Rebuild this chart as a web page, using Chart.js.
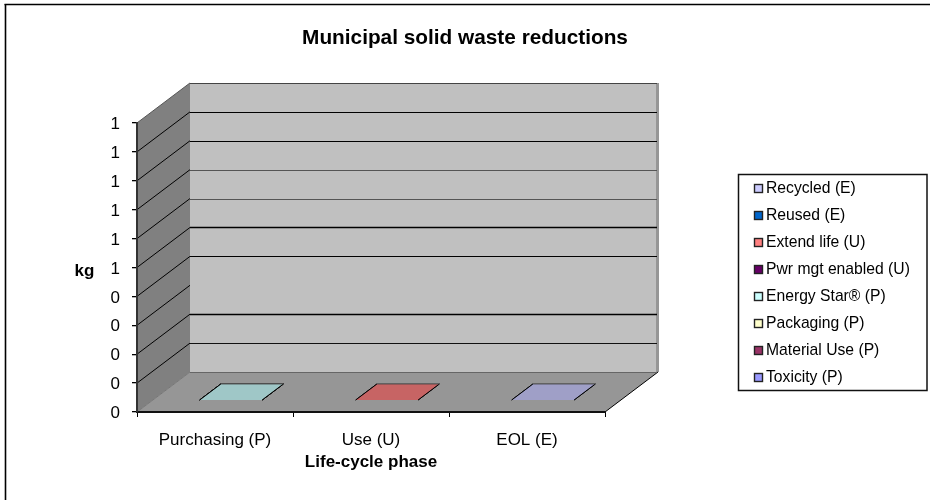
<!DOCTYPE html>
<html><head><meta charset="utf-8">
<style>html,body{margin:0;padding:0;background:#fff}canvas{display:block}</style>
<script src="https://cdn.jsdelivr.net/npm/chart.js@4/dist/chart.umd.min.js"></script>
</head><body><canvas id="c" width="930" height="500"></canvas>
<script>
const chartTitle = 'Municipal solid waste reductions';
const xAxisTitle = 'Life-cycle phase';
const yAxisTitle = 'kg';
const phases = ['Purchasing (P)', 'Use (U)', 'EOL (E)'];
const yTickLabels = ['0','0','0','0','0','1','1','1','1','1','1'];
const toxicity    = [0, null, null];
const materialUse = [0, null, null];
const packaging   = [0, null, null];
const energyStar  = [0, null, null];
const pwrMgt      = [null, 0, null];
const extendLife  = [null, 0, null];
const reused      = [null, null, 0];
const recycled    = [null, null, 0];
const seriesNames = ['Toxicity (P)','Material Use (P)','Packaging (P)','Energy Star® (P)','Pwr mgt enabled (U)','Extend life (U)','Reused (E)','Recycled (E)'];
const seriesValues = [toxicity, materialUse, packaging, energyStar, pwrMgt, extendLife, reused, recycled];
const seriesColors = ['#9999ff','#993366','#ffffcc','#ccffff','#660066','#ff8080','#0066cc','#ccccff'];

const FONT = '"Liberation Sans", Arial, sans-serif';
const DX = 53, DY = 40;
const backLineStyle = [
  ['#666',1],['#111',1],['#000',1.6],null,['#000',1.2],['#000',1.4],['#555',1],['#555',1],['#000',1.2],['#000',1.2],['#444',1]
];
function shade(hex){
  const n = parseInt(hex.slice(1),16), f = 0.78;
  return 'rgb('+[(n>>16)&255,(n>>8)&255,n&255].map(c=>Math.round(c*f)).join(',')+')';
}
function poly(ctx, pts, fill){
  ctx.beginPath();
  pts.forEach((p,i)=> i?ctx.lineTo(p[0],p[1]):ctx.moveTo(p[0],p[1]));
  ctx.closePath();
  ctx.fillStyle = fill; ctx.fill();
}
function seg(ctx,x1,y1,x2,y2,col,w){
  ctx.beginPath();ctx.moveTo(x1,y1);ctx.lineTo(x2,y2);ctx.strokeStyle=col;ctx.lineWidth=w;ctx.stroke();
}
const LEG = {boxL:738, boxT:174, boxR:926.5, boxB:390, padding:11.3, font:15.7, textX:766, markX:754, firstRow:188};

const walls = {
  id:'walls',
  beforeLayout(chart){
    const l = chart.legend;
    if (l && !l._patched){
      const f = l.fit;
      l.fit = function(){ f.call(this); this.width = 325; };
      l._patched = true;
    }
  },
  afterLayout(chart){
    const l = chart.legend;
    const bw = 5.35;
    l.left = LEG.textX - bw - LEG.font/2 - LEG.padding;
    l.right = 930;
    l.top = LEG.firstRow + 1 - LEG.font/2 - LEG.padding;
    l.bottom = 500;
    l.width = l.right-l.left; l.height = l.bottom-l.top;
  },
  beforeDraw(chart){
    const {ctx, chartArea:a, scales:{y}} = chart;
    ctx.save();
    ctx.fillStyle='#fff';ctx.fillRect(0,0,930,500);
    seg(ctx,5.5,4,5.5,500,'#000',1.6);
    seg(ctx,4.5,4.5,930,4.5,'#000',1.6);
    const L=a.left,R=a.right,T=a.top,B=a.bottom;
    poly(ctx,[[L+DX,T-DY],[R+DX,T-DY],[R+DX,B-DY],[L+DX,B-DY]],'#c0c0c0');
    poly(ctx,[[R+DX-2,T-DY],[R+DX+1,T-DY],[R+DX+1,B-DY],[R+DX-2,B-DY]],'#969696');
    poly(ctx,[[L,T],[L+DX,T-DY],[L+DX,B-DY],[L,B]],'#808080');
    poly(ctx,[[L,B],[L+DX,B-DY],[R+DX,B-DY],[R,B]],'#969696');
    seg(ctx,L,B,L+DX,B-DY,'#777',1);
    seg(ctx,L,T,L+DX,T-DY,'#555',1);
    seg(ctx,R,B,R+DX,B-DY,'#000',1);
    y.ticks.forEach((t,i)=>{
      const py = y.getPixelForValue(t.value);
      if (i>0 && i<y.ticks.length-1) seg(ctx,L,py,L+DX,py-DY,'#000',1);
      const st = backLineStyle[i];
      if (st){
        const by = Math.round(py-DY)+0.5;
        seg(ctx,L+DX,by,R+DX-1,by,st[0],st[1]);
      }
    });
    ctx.strokeStyle='#111';ctx.lineWidth=1.5;
    ctx.strokeRect(LEG.boxL+.5,LEG.boxT+.5,LEG.boxR-LEG.boxL,LEG.boxB-LEG.boxT);
    ctx.fillStyle='#000';ctx.font='bold 17px '+FONT;ctx.textAlign='center';ctx.textBaseline='middle';
    ctx.fillText(yAxisTitle,84.5,271);
    ctx.restore();
  },
  beforeDatasetsDraw(chart){
    const {ctx} = chart;
    ctx.save();
    chart.data.datasets.forEach((ds,i)=>{
      chart.getDatasetMeta(i).data.forEach((el,j)=>{
        if (ds.data[j]===null) return;
        const w = el.width, x0 = el.x-w/2, x1 = el.x+w/2;
        const yb = chart.scales.y.getPixelForValue(ds.data[j]);
        const f=0.3,b=0.7;
        const p=[[x0+DX*f,yb-DY*f],[x1+DX*f,yb-DY*f],[x1+DX*b,yb-DY*b],[x0+DX*b,yb-DY*b]];
        poly(ctx,p,shade(seriesColors[i]));
        seg(ctx,p[0][0],p[0][1],p[3][0],p[3][1],'#000',1);
        seg(ctx,p[1][0],p[1][1],p[2][0],p[2][1],'#000',1);
        seg(ctx,p[3][0],p[3][1],p[2][0],p[2][1],'#444',0.8);
      });
    });
    ctx.restore();
  },
  afterDraw(chart){
    const {ctx} = chart;
    ctx.save();
    const order = chart.data.datasets.map((d,i)=>i).reverse();
    order.forEach((di,row)=>{
      const cy = LEG.firstRow + row*27;
      ctx.fillStyle=seriesColors[di];
      ctx.fillRect(LEG.markX+.5,Math.round(cy-4.5)+.5,8,8);
      ctx.strokeStyle='#222';ctx.lineWidth=1.4;
      ctx.strokeRect(LEG.markX+.5,Math.round(cy-4.5)+.5,8,8);
    });
    ctx.restore();
  }
};

new Chart(document.getElementById('c'),{
  type:'bar',
  data:{
    labels:phases,
    datasets:seriesNames.map((n,i)=>({
      label:n,data:seriesValues[i],backgroundColor:seriesColors[i],borderWidth:0,
      categoryPercentage:1,barPercentage:0.4
    }))
  },
  plugins:[walls],
  options:{
    responsive:false,animation:false,
    layout:{padding:0},
    plugins:{
      tooltip:{enabled:false},
      title:{display:true,text:chartTitle,color:'#000',font:{family:FONT,size:20.8,weight:'bold'},padding:{top:25.5,bottom:72.5}},
      legend:{
        display:true,position:'right',reverse:true,align:'start',
        labels:{
          color:'#000',font:{family:FONT,size:LEG.font},padding:LEG.padding,boxWidth:5.35,boxHeight:9,
          generateLabels(chart){
            return chart.data.datasets.map((d,i)=>({text:d.label,fillStyle:'rgba(0,0,0,0)',strokeStyle:'rgba(0,0,0,0)',lineWidth:0,hidden:false,datasetIndex:i}));
          }
        }
      }
    },
    scales:{
      x:{
        stacked:true,offset:true,
        afterFit(s){s.height=88;},
        grid:{drawOnChartArea:false,offset:true,color:'#000',tickLength:5,lineWidth:1},
        border:{color:'#111',width:2},
        ticks:{color:'#000',font:{family:FONT,size:17},padding:13,maxRotation:0},
        title:{display:true,text:xAxisTitle,color:'#000',font:{family:FONT,size:17,weight:'bold'},padding:{top:27,bottom:27}}
      },
      y:{
        stacked:true,min:0,max:1,
        afterFit(s){s.width=137;},
        grid:{drawOnChartArea:false,color:'#000',tickLength:5,lineWidth:1.3},
        border:{color:'#333',width:2},
        ticks:{color:'#000',font:{family:FONT,size:17},padding:12,stepSize:0.1,labelOffset:1.5,callback:(v,i)=>yTickLabels[i]}
      }
    }
  }
});
</script></body></html>
